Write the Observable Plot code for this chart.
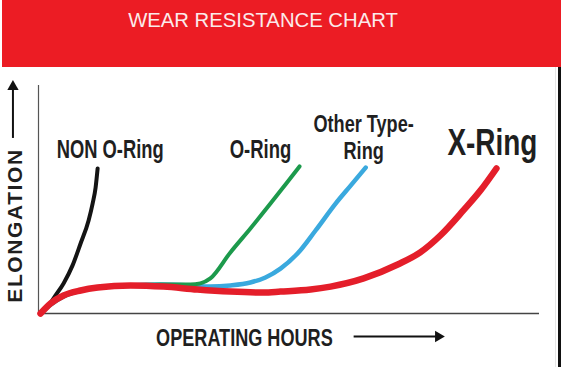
<!DOCTYPE html>
<html>
<head>
<meta charset="utf-8">
<script src="https://cdn.jsdelivr.net/npm/d3@7"></script>
<script src="https://cdn.jsdelivr.net/npm/@observablehq/plot@0.6"></script>
<style>
  html, body { margin: 0; padding: 0; background: #fff; }
  #page { position: relative; width: 561px; height: 367px; overflow: hidden; background: #fff; }
  #header { position: absolute; left: 2px; top: 0; width: 559px; height: 67px; background: #ec1c24; }
  #title { position: absolute; left: 0; top: 9px; width: 522px; text-align: center;
           font: 20.3px "Liberation Sans", Arial, sans-serif; line-height: 23px; color: #fbeaea; }
  #chart { position: absolute; left: 0; top: 67px; }
  #edge { position: absolute; left: 558px; top: 67px; width: 3px; height: 300px; background: #111; }
  #edge2 { position: absolute; left: 555px; top: 67px; width: 1px; height: 300px; background: #e6e6e6; }
</style>
</head>
<body>
<div id="page">
  <div id="header"><div id="title">WEAR RESISTANCE CHART</div></div>
  <div id="chart"></div>
  <div id="edge2"></div>
  <div id="edge"></div>
</div>
<script>
// ---- data (arbitrary units: hours 0-100, elongation 0-100) ----
const seriesNames = ["NON O-Ring", "Other Type-Ring", "O-Ring", "X-Ring"];
const seriesColors = ["#141414", "#3aa9de", "#1c9a4c", "#e41e2a"];
const seriesWidths = [4, 4.5, 4, 6.5];

const nonORingHours = [0.4, 2, 3.4, 5, 6.8, 8.4, 10, 10.8, 11.4, 11.8];
const nonORingElong = [0.4, 3.5, 7.9, 13.2, 21.1, 30.7, 40.8, 48.2, 55.3, 63.6];

const otherHours = [0.4, 2.4, 5, 8.4, 12.4, 18.4, 24.4, 30.3, 34.3, 38.3, 42.3, 45.3, 48.3, 51.7, 55.3, 59.3, 62.3, 65.3];
const otherElong = [0, 3.9, 7.5, 10.1, 11.4, 12.3, 12.7, 12.3, 11.8, 12.3, 13.6, 15.8, 19.7, 26.3, 36.4, 48.2, 56.1, 64];

const oRingHours = [0.4, 2.4, 5, 8.4, 12.4, 18.4, 24.4, 30.3, 32.3, 34.3, 38.3, 42.3, 46.3, 49.3, 52.1];
const oRingElong = [0, 3.9, 7.5, 10.1, 11.4, 12.3, 12.7, 12.7, 13.2, 15.4, 26.8, 37.3, 48.2, 56.6, 64.5];

const xRingHours = [0.4, 2.4, 5, 8.4, 11.8, 18.4, 25, 31.7, 38.3, 44.9, 48.3, 54.3, 58.3, 64.9, 71.7, 76.2, 80.2, 84.8, 88.2, 91.4];
const xRingElong = [0, 4.4, 7.9, 10.1, 11.4, 12.3, 11.8, 10.5, 9.6, 9.2, 9.6, 10.5, 11.8, 15.4, 21.5, 26.8, 34.2, 45.2, 53.9, 63.6];

// curve labels
const labelTexts = ["NON O-Ring", "O-Ring", "Other Type-\nRing", "X-Ring"];
const labelHours = [14.3, 44.3, 64.9, 90.6];
const labelElong = [68.3, 68.3, 67.9, 69.3];
const labelSizes = [25.5, 25, 24, 37];
const labelScales = [0.72, 0.74, 0.755, 0.755];

// axis titles and arrows
const axisTitles = ["OPERATING HOURS", "ELONGATION"];
const axisTitleX = [41.1, -4.6];
const axisTitleY = [-11.1, 38.6];
const arrowX1 = [-5.1, 62.9], arrowY1 = [77.0, -10.1];
const arrowX2 = [-5.1, 79.8], arrowY2 = [99.5, -10.1];
const arrowHeadRotate = [0, 90];

// ---- build tables ----
const hoursArr = [nonORingHours, otherHours, oRingHours, xRingHours];
const elongArr = [nonORingElong, otherElong, oRingElong, xRingElong];
const lines = seriesNames.map((name, i) => hoursArr[i].map((h, j) => ({series: name, hours: h, elong: elongArr[i][j]})));
const labels = labelTexts.map((t, i) => ({text: t, hours: labelHours[i], elong: labelElong[i], size: labelSizes[i]}));
const titles = axisTitles.map((t, i) => ({text: t, x: axisTitleX[i], y: axisTitleY[i]}));
const arrows = arrowX1.map((x1, i) => ({x1, y1: arrowY1[i], x2: arrowX2[i], y2: arrowY2[i], rot: arrowHeadRotate[i]}));

const sans = '"Liberation Sans", Arial, sans-serif';

const chart = Plot.plot({
  width: 561,
  height: 300,
  marginLeft: 38,
  marginRight: 22,
  marginTop: 18,
  marginBottom: 54,
  x: {domain: [0, 100], axis: null},
  y: {domain: [0, 100], axis: null},
  style: {background: "transparent", overflow: "visible"},
  marks: [
    Plot.ruleX([0], {stroke: "#555", strokeWidth: 1.2}),
    Plot.ruleY([0], {stroke: "#444", strokeWidth: 1.6}),
    ...lines.map((data, i) => Plot.line(data, {
      x: "hours", y: "elong", curve: "monotone-x",
      stroke: seriesColors[i], strokeWidth: seriesWidths[i], strokeLinecap: "round", strokeLinejoin: "round"
    })),
    ...labels.map(d => Plot.text([d], {
      x: "hours", y: "elong", text: "text", textAnchor: "middle", lineAnchor: "bottom",
      fontSize: d.size, fontWeight: "bold", fontFamily: sans, fill: "#1f1f1f", lineHeight: 1.12
    })),
    Plot.text([titles[0]], {
      x: "x", y: "y", text: "text", textAnchor: "middle", lineAnchor: "middle",
      fontSize: 23.5, fontWeight: "bold", fontFamily: sans, fill: "#1f1f1f"
    }),
    Plot.text([titles[1]], {
      x: "x", y: "y", text: "text", rotate: -90, textAnchor: "middle", lineAnchor: "middle",
      fontSize: 21, fontWeight: "bold", fontFamily: sans, fill: "#1f1f1f"
    }),
    Plot.link(arrows, {x1: "x1", y1: "y1", x2: "x2", y2: "y2", stroke: "#111", strokeWidth: 2}),
    Plot.dot(arrows, {x: "x2", y: "y2", symbol: "triangle", r: 4.2, fill: "#111", stroke: "none", rotate: "rot"})
  ]
});

// condensed look: squeeze label glyphs horizontally around their anchor
const textGroups = d3.select(chart).selectAll('g[aria-label="text"]').nodes();
const squeeze = [...labelScales, 0.77];
textGroups.slice(0, squeeze.length).forEach((g, i) => {
  d3.select(g).selectAll("text").each(function () {
    const t = this.getAttribute("transform") || "";
    this.setAttribute("transform", `${t} scale(${squeeze[i]},1)`);
  });
});
// letter spacing for the vertical axis title
d3.select(textGroups[textGroups.length - 1]).selectAll("text").style("letter-spacing", "1.6px");

document.getElementById("chart").appendChild(chart);
</script>
</body>
</html>
